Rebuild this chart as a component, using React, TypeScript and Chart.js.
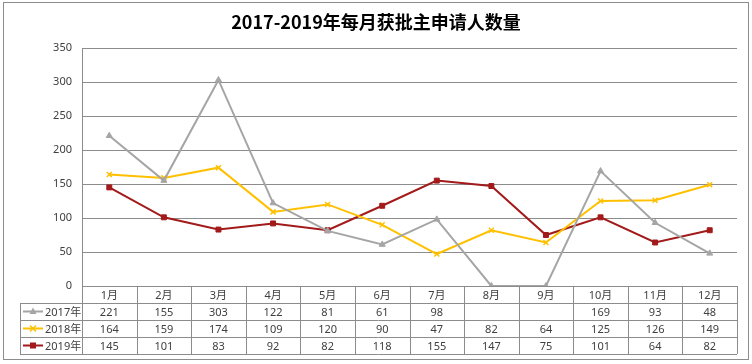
import React, { useEffect, useRef } from "react";
import { Chart, registerables } from "chart.js";

Chart.register(...registerables);

const TITLE = "2017-2019年每月获批主申请人数量";
const months = ["1月", "2月", "3月", "4月", "5月", "6月", "7月", "8月", "9月", "10月", "11月", "12月"];
const seriesNames = ["2017年", "2018年", "2019年"];
const y2017: (number | null)[] = [221, 155, 303, 122, 81, 61, 98, null, null, 169, 93, 48];
const y2018: number[] = [164, 159, 174, 109, 120, 90, 47, 82, 64, 125, 126, 149];
const y2019: number[] = [145, 101, 83, 92, 82, 118, 155, 147, 75, 101, 64, 82];
const yTicks = [0, 50, 100, 150, 200, 250, 300, 350];

const colors = ["#A5A5A5", "#FFC000", "#A31A1A"];
const shapes = ["triangle", "crossRot", "rect"];

const FONT = "'Noto Sans', 'Noto Sans CJK SC', sans-serif";

function drawMarker(ctx: CanvasRenderingContext2D, shape: string, x: number, y: number, color: string) {
  ctx.save();
  ctx.fillStyle = color;
  ctx.strokeStyle = color;
  ctx.lineWidth = 1.5;
  if (shape === "triangle") {
    ctx.beginPath();
    ctx.moveTo(x, y - 4);
    ctx.lineTo(x + 3.5, y + 2.5);
    ctx.lineTo(x - 3.5, y + 2.5);
    ctx.closePath();
    ctx.fill();
  } else if (shape === "crossRot") {
    ctx.beginPath();
    ctx.moveTo(x - 3, y - 3);
    ctx.lineTo(x + 3, y + 3);
    ctx.moveTo(x + 3, y - 3);
    ctx.lineTo(x - 3, y + 3);
    ctx.stroke();
  } else {
    ctx.fillRect(x - 3, y - 3, 6, 6);
  }
  ctx.restore();
}

const tablePlugin = {
  id: "dataTable",
  afterDraw(chart: any) {
    const ctx: CanvasRenderingContext2D = chart.ctx;
    const area = chart.chartArea;
    const n = months.length;
    const colW = (area.right - area.left) / n;
    const rowH = 17;
    const top = area.bottom;
    const legendLeft = 20;
    const gridColor = "#8C8C8C";
    ctx.save();
    // outer border
    ctx.strokeStyle = "#8C8C8C";
    ctx.lineWidth = 1;
    ctx.strokeRect(3.5, 2.5, 745, 357);

    // title
    ctx.fillStyle = "#000000";
    ctx.font = "bold 18px 'Noto Sans CJK SC', sans-serif";
    ctx.textAlign = "center";
    ctx.textBaseline = "middle";
    ctx.fillText(TITLE, 376, 22);

    // table grid
    ctx.strokeStyle = gridColor;
    ctx.lineWidth = 1;
    ctx.beginPath();
    // horizontal lines
    const crisp = (v: number) => Math.round(v) + 0.5;
    ctx.moveTo(area.left, crisp(top));
    ctx.lineTo(area.right, crisp(top));
    for (let r = 1; r <= 4; r++) {
      const yy = crisp(top + r * rowH);
      ctx.moveTo(legendLeft, yy);
      ctx.lineTo(area.right, yy);
    }
    // vertical lines
    for (let c = 0; c <= n; c++) {
      const xx = crisp(area.left + c * colW);
      ctx.moveTo(xx, top);
      ctx.lineTo(xx, top + 4 * rowH);
    }
    ctx.moveTo(crisp(legendLeft), top + rowH);
    ctx.lineTo(crisp(legendLeft), top + 4 * rowH);
    ctx.stroke();

    // header text
    ctx.fillStyle = "#404040";
    ctx.font = `11px ${FONT}`;
    ctx.textAlign = "center";
    ctx.textBaseline = "middle";
    months.forEach((m, i) => {
      ctx.fillText(m, area.left + (i + 0.5) * colW, top + rowH / 2 + 1);
    });
    const rows = [y2017, y2018, y2019];
    rows.forEach((row, r) => {
      const cy = top + (r + 1.5) * rowH + 1;
      row.forEach((v, i) => {
        if (v === null) return;
        ctx.fillText(String(v), area.left + (i + 0.5) * colW, cy);
      });
      // legend key
      const ly = top + (r + 1.5) * rowH;
      ctx.strokeStyle = colors[r];
      ctx.lineWidth = 2;
      ctx.beginPath();
      ctx.moveTo(23, ly);
      ctx.lineTo(43, ly);
      ctx.stroke();
      drawMarker(ctx, shapes[r], 33, ly, colors[r]);
      ctx.fillStyle = "#404040";
      ctx.textAlign = "left";
      ctx.fillText(seriesNames[r], 45, cy);
      ctx.textAlign = "center";
    });
    ctx.restore();
  },
};

export default function App() {
  const ref = useRef<HTMLCanvasElement>(null);
  useEffect(() => {
    if (!ref.current) return;
    const mk = (i: number, data: (number | null)[]) => ({
      label: seriesNames[i],
      data: data.map((v) => (v === null ? 0 : v)),
      borderColor: colors[i],
      backgroundColor: colors[i],
      borderWidth: 2,
      pointStyle: shapes[i] as any,
      pointRadius: i === 1 ? 3.5 : 3.5,
      pointBorderWidth: i === 1 ? 1.5 : 1,
      tension: 0,
    });
    const chart = new Chart(ref.current, {
      type: "line",
      data: {
        labels: months,
        datasets: [mk(0, y2017), mk(1, y2018), mk(2, y2019)],
      },
      options: {
        responsive: false,
        animation: false,
        layout: { padding: { left: 0, right: 15, top: 48, bottom: 78 } },
        plugins: { legend: { display: false }, tooltip: { enabled: false }, title: { display: false } },
        scales: {
          x: { display: false, offset: true },
          y: {
            min: 0,
            max: 350,
            afterFit: (scale: any) => {
              scale.width = 82;
            },
            afterBuildTicks: (scale: any) => {
              scale.ticks = yTicks.map((v) => ({ value: v }));
            },
            grid: { color: "#8C8C8C", lineWidth: 1, drawTicks: false },
            border: { display: true, color: "#8C8C8C", width: 1 },
            ticks: {
              padding: 10,
              color: "#404040",
              font: { size: 11, family: FONT },
            },
          },
        },
      },
      plugins: [tablePlugin],
    });
    return () => chart.destroy();
  }, []);
  return (
    <div style={{ position: "fixed", left: 0, top: 0, width: 752, height: 364, background: "#fff" }}>
      <canvas ref={ref} width={752} height={364} />
    </div>
  );
}
